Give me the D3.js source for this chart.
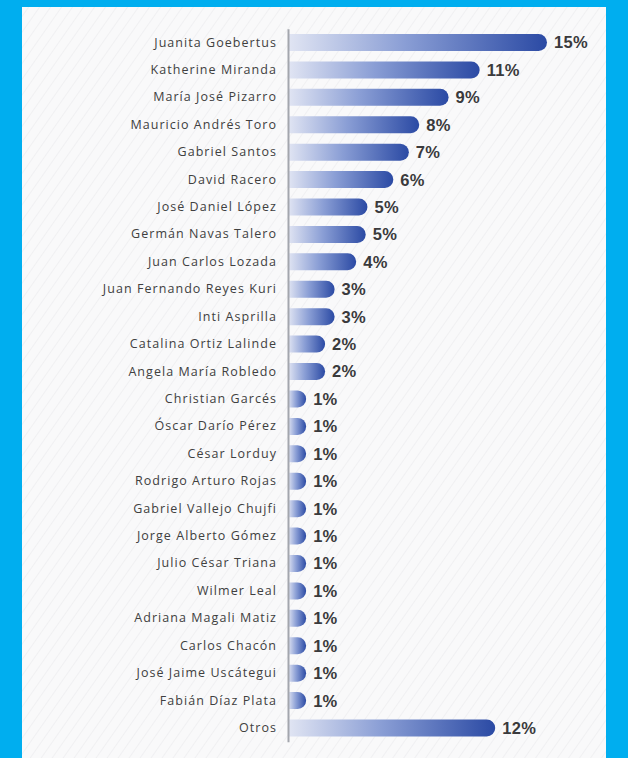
<!DOCTYPE html>
<html>
<head>
<meta charset="utf-8">
<script src="https://cdn.jsdelivr.net/npm/d3@7"></script>
<style>
  html, body { margin: 0; padding: 0; background: #00aeef; }
  svg { display: block; }
</style>
</head>
<body>
<svg id="chart" width="628" height="758"></svg>
<script>
// ---- data ----
const categories = [
  "Juanita Goebertus", "Katherine Miranda", "María José Pizarro", "Mauricio Andrés Toro",
  "Gabriel Santos", "David Racero", "José Daniel López", "Germán Navas Talero",
  "Juan Carlos Lozada", "Juan Fernando Reyes Kuri", "Inti Asprilla", "Catalina Ortiz Lalinde",
  "Angela María Robledo", "Christian Garcés", "Óscar Darío Pérez", "César Lorduy",
  "Rodrigo Arturo Rojas", "Gabriel Vallejo Chujfi", "Jorge Alberto Gómez", "Julio César Triana",
  "Wilmer Leal", "Adriana Magali Matiz", "Carlos Chacón", "José Jaime Uscátegui",
  "Fabián Díaz Plata", "Otros"
];
const values = [
  15.0, 11.1, 9.3, 7.6,
  7.0, 6.1, 4.6, 4.5,
  3.95, 2.7, 2.7, 2.15,
  2.15, 1.05, 1.05, 1.05,
  1.05, 1.05, 1.05, 1.05,
  1.05, 1.05, 1.05, 1.05,
  1.05, 12.0
];

const data = categories.map((c, i) => ({ name: c, value: values[i] }));

// ---- layout ----
const svg = d3.select("#chart");
const W = 628, H = 758;

const defs = svg.append("defs");
const grad = defs.append("linearGradient").attr("id", "barGrad")
  .attr("x1", "0").attr("x2", "1").attr("y1", "0").attr("y2", "0");
grad.append("stop").attr("offset", "0").attr("stop-color", "#e1e5f3");
grad.append("stop").attr("offset", "0.45").attr("stop-color", "#8a9ed5");
grad.append("stop").attr("offset", "1").attr("stop-color", "#2b4aa4");

const stripes = defs.append("pattern").attr("id", "stripes")
  .attr("patternUnits", "userSpaceOnUse").attr("width", 9).attr("height", 9)
  .attr("patternTransform", "rotate(35)");
stripes.append("rect").attr("width", 9).attr("height", 9).attr("fill", "#f9f9fa");
stripes.append("line").attr("x1", 0).attr("y1", 0).attr("x2", 0).attr("y2", 9)
  .attr("stroke", "#f0f0f2").attr("stroke-width", 2);

// panel
svg.append("rect").attr("x", 22).attr("y", 7).attr("width", 584).attr("height", H - 7)
  .attr("fill", "url(#stripes)");

// scales
const x = d3.scaleLinear().domain([0, 15]).range([288, 547]);
const y = d3.scaleBand().domain(categories).range([28.8, 741.7])
  .paddingInner(0.38).paddingOuter(0.19);

// bars
const bh = y.bandwidth();
function barPath(d) {
  const x0 = x(0), x1 = x(d.value), y0 = y(d.name), r = bh / 2;
  return `M${x0},${y0} H${x1 - r} A${r},${r} 0 0 1 ${x1 - r},${y0 + bh} H${x0} Z`;
}
svg.append("g").selectAll("path").data(data).join("path")
  .attr("d", barPath)
  .attr("fill", "url(#barGrad)");

// value labels
svg.append("g").selectAll("text").data(data).join("text")
  .attr("x", d => x(d.value) + 7)
  .attr("y", d => y(d.name) + bh / 2)
  .attr("dy", "0.36em")
  .attr("font-family", "'Liberation Sans', Arial, sans-serif")
  .attr("font-weight", "bold")
  .attr("font-size", 16.5)
  .attr("letter-spacing", 0.3)
  .attr("fill", "#3a3a3c")
  .text(d => Math.round(d.value) + "%");

// axis
const axis = svg.append("g")
  .attr("transform", `translate(${x(0)},0)`)
  .call(d3.axisLeft(y).tickSize(0).tickPadding(11));
axis.select(".domain").attr("stroke", "#a3a6ad").attr("stroke-width", 2);
axis.selectAll("text")
  .attr("font-family", "'Open Sans', sans-serif")
  .attr("font-size", 12.5)
  .attr("letter-spacing", 1.05)
  .attr("fill", "#404040");
</script>
</body>
</html>
